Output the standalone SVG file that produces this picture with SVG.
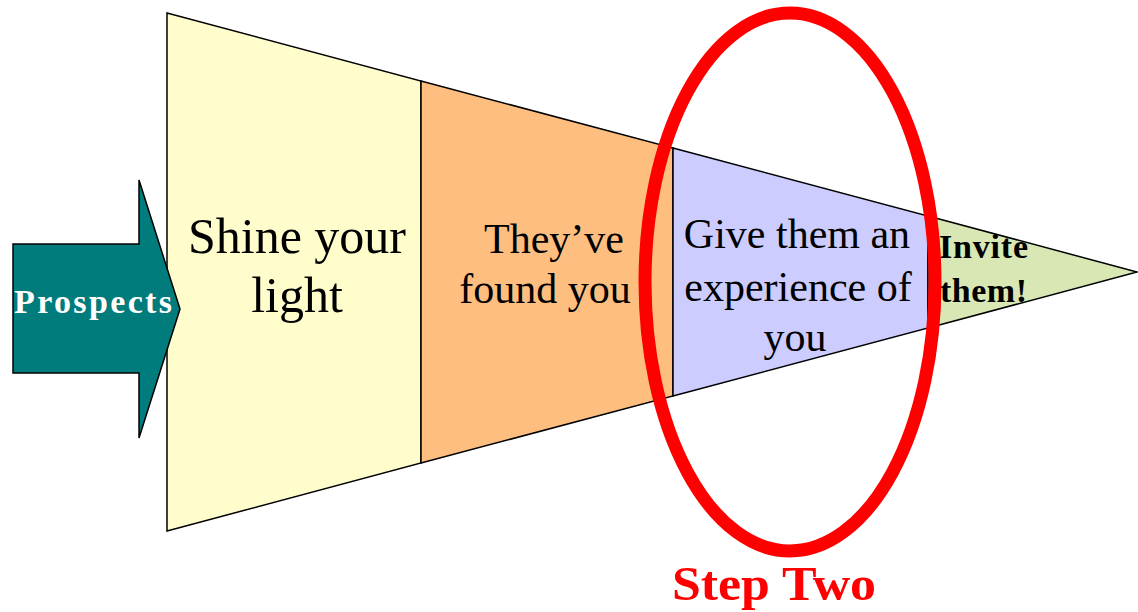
<svg xmlns="http://www.w3.org/2000/svg" width="1138" height="612" viewBox="0 0 1138 612">
  <style>
    .seg { stroke: #000; stroke-width: 1.5; stroke-linejoin: miter; }
    .lbl { font-family: "Liberation Serif", "Times New Roman", serif; fill: #000; }
    .bold { font-weight: bold; }
  </style>
  <rect x="0" y="0" width="1138" height="612" fill="#ffffff"/>
  <g id="stage-shine">
    <polygon class="seg" fill="#FFFDCC" points="167,13 421,81 421,463 167,531"/>
    <text class="lbl" font-size="50" text-anchor="middle"><tspan x="297" y="253">Shine your</tspan><tspan x="297" y="312">light</tspan></text>
  </g>
  <g id="stage-found">
    <polygon class="seg" fill="#FDBE80" points="421,81 673,148 673,396 421,463"/>
    <text class="lbl" font-size="42" text-anchor="middle"><tspan x="554" y="253">They’ve</tspan><tspan x="545" y="303">found you</tspan></text>
  </g>
  <g id="stage-experience">
    <polygon class="seg" fill="#CCCCFF" points="673,148 928,216 928,328 673,396"/>
    <text class="lbl" font-size="42" text-anchor="middle"><tspan x="797" y="248">Give them an</tspan><tspan x="798" y="301">experience of</tspan><tspan x="795" y="351">you</tspan></text>
  </g>
  <g id="stage-invite">
    <polygon class="seg" fill="#D8E7B4" points="928,216 1137,272 928,328"/>
    <text class="lbl bold" font-size="34"><tspan x="939" y="258" textLength="89" lengthAdjust="spacing">Invite</tspan><tspan x="940" y="302" textLength="87" lengthAdjust="spacing">them!</tspan></text>
  </g>
  <g id="prospects">
    <polygon fill="#007C7C" stroke="#000" stroke-width="1.5" points="13,244 139,244 139,180 180,309 139,438 139,373 13,373"/>
    <text class="bold" font-family="'Liberation Serif', 'Times New Roman', serif" font-size="34" fill="#ffffff" x="14" y="313" textLength="158" lengthAdjust="spacing">Prospects</text>
  </g>
  <g id="step-two">
    <ellipse cx="790" cy="282" rx="145" ry="269" fill="none" stroke="#FF0000" stroke-width="13"/>
    <text class="bold" font-family="'Liberation Serif', 'Times New Roman', serif" font-size="48" fill="#FF0000" x="672" y="600" textLength="204" lengthAdjust="spacingAndGlyphs">Step Two</text>
  </g>
</svg>
